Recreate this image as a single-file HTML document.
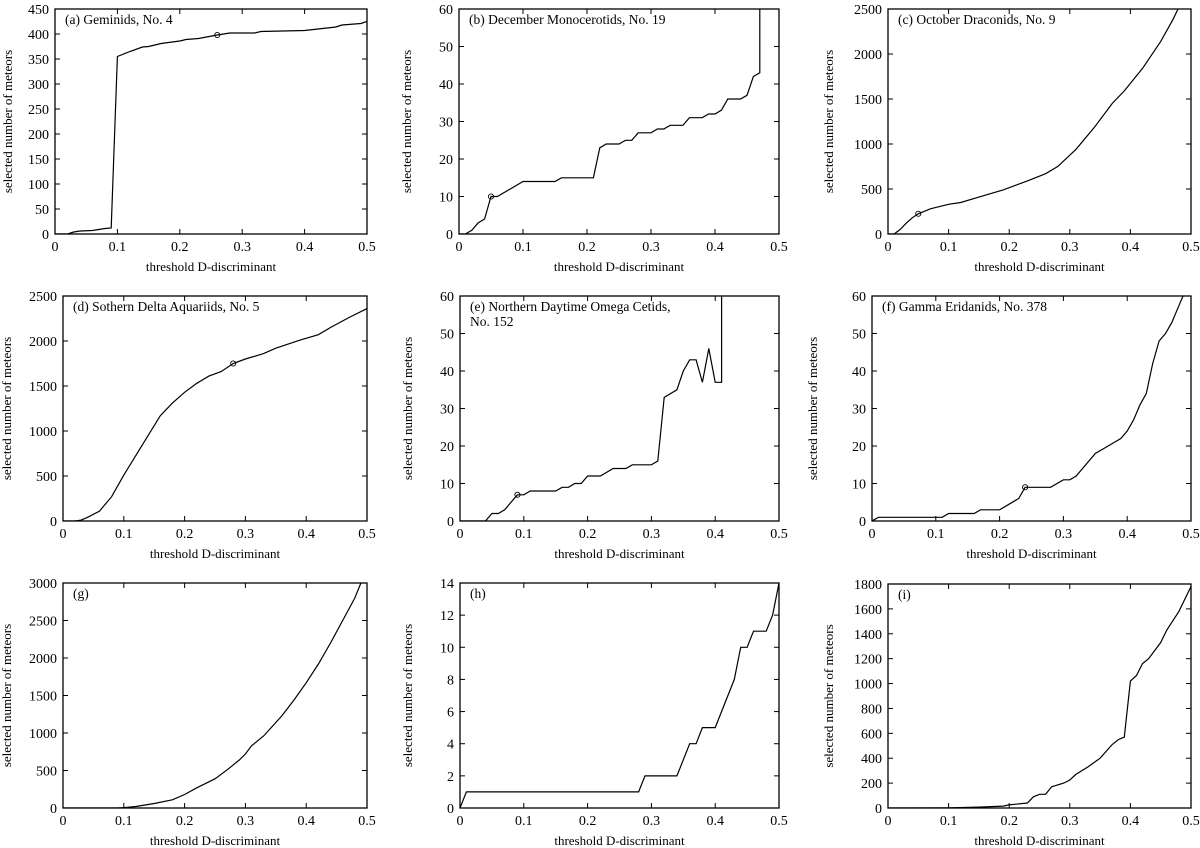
<!DOCTYPE html>
<html><head><meta charset="utf-8"><style>
html,body{margin:0;padding:0;background:#fff;}
svg{display:block;font-family:"Liberation Serif",serif;}
</style></head><body>
<svg id="fig" width="1200" height="848" viewBox="0 0 1200 848" xmlns="http://www.w3.org/2000/svg"></svg>
<script>
// Panel data (x = threshold D, y = selected meteors)
const aX=[0,0.02,0.03,0.04,0.06,0.08,0.09,0.1,0.12,0.14,0.15,0.17,0.2,0.21,0.23,0.26,0.28,0.32,0.33,0.4,0.45,0.46,0.49,0.5];
const aY=[0,0,4,6,7,11,12,355,365,374,375,381,386,389,391,398,402,402,405,407,414,418,421,425];
const bX=[0,0.01,0.02,0.03,0.04,0.05,0.06,0.1,0.15,0.16,0.21,0.22,0.23,0.25,0.26,0.27,0.28,0.3,0.31,0.32,0.33,0.35,0.36,0.38,0.39,0.4,0.41,0.42,0.44,0.45,0.46,0.47,0.47];
const bY=[0,0,1,3,4,10,10,14,14,15,15,23,24,24,25,25,27,27,28,28,29,29,31,31,32,32,33,36,36,37,42,43,70];
const cX=[0,0.01,0.02,0.03,0.04,0.05,0.07,0.1,0.12,0.15,0.19,0.23,0.26,0.28,0.31,0.34,0.37,0.39,0.42,0.45,0.47,0.48];
const cY=[0,0,50,120,180,225,280,330,350,410,490,590,670,750,940,1180,1450,1590,1840,2140,2380,2520];
const dX=[0,0.02,0.03,0.04,0.06,0.08,0.1,0.13,0.16,0.18,0.2,0.22,0.24,0.26,0.28,0.3,0.33,0.35,0.39,0.42,0.44,0.47,0.5];
const dY=[0,0,10,40,110,270,510,840,1170,1310,1430,1530,1610,1660,1750,1800,1860,1920,2010,2070,2150,2260,2360];
const eX=[0,0.04,0.05,0.06,0.07,0.08,0.09,0.1,0.11,0.15,0.16,0.17,0.18,0.19,0.2,0.22,0.24,0.26,0.27,0.3,0.31,0.32,0.34,0.35,0.36,0.37,0.38,0.39,0.4,0.41,0.41];
const eY=[0,0,2,2,3,5,7,7,8,8,9,9,10,10,12,12,14,14,15,15,16,33,35,40,43,43,37,46,37,37,70];
const fX=[0,0.01,0.11,0.12,0.16,0.17,0.2,0.23,0.24,0.28,0.3,0.31,0.32,0.35,0.37,0.39,0.4,0.41,0.42,0.43,0.44,0.45,0.46,0.47,0.48,0.49];
const fY=[0,1,1,2,2,3,3,6,9,9,11,11,12,18,20,22,24,27,31,34,42,48,50,53,57,61];
const gX=[0,0.09,0.1,0.12,0.15,0.18,0.2,0.22,0.25,0.27,0.29,0.3,0.31,0.33,0.36,0.38,0.4,0.42,0.44,0.46,0.48,0.49];
const gY=[0,0,5,20,60,110,180,270,390,510,640,720,830,960,1230,1440,1670,1920,2200,2500,2800,3000];
const hX=[0,0.01,0.28,0.29,0.34,0.36,0.37,0.38,0.4,0.43,0.44,0.45,0.46,0.48,0.49,0.5];
const hY=[0,1,1,2,2,4,4,5,5,8,10,10,11,11,12,14];
const iX=[0,0.1,0.15,0.19,0.2,0.22,0.23,0.24,0.25,0.26,0.27,0.29,0.3,0.31,0.33,0.35,0.37,0.38,0.39,0.4,0.41,0.42,0.43,0.45,0.46,0.48,0.5];
const iY=[0,2,7,15,25,35,40,90,110,110,170,200,225,270,330,400,510,550,570,1020,1065,1160,1200,1330,1430,1580,1780];
const xTicks=[0,0.1,0.2,0.3,0.4,0.5];
const aYTicks=[0,50,100,150,200,250,300,350,400,450];
const bYTicks=[0,10,20,30,40,50,60];
const cYTicks=[0,500,1000,1500,2000,2500];
const dYTicks=[0,500,1000,1500,2000,2500];
const gYTicks=[0,500,1000,1500,2000,2500,3000];
const hYTicks=[0,2,4,6,8,10,12,14];
const iYTicks=[0,200,400,600,800,1000,1200,1400,1600,1800];
const titles={a:["(a)  Geminids, No. 4"],b:["(b)  December Monocerotids, No. 19"],c:["(c)  October Draconids, No. 9"],d:["(d)  Sothern Delta Aquariids, No. 5"],e:["(e)  Northern Daytime Omega Cetids,","       No. 152"],f:["(f)  Gamma Eridanids, No. 378"],g:["(g)"],h:["(h)"],i:["(i)"]};
const markers={a:[0.26,398],b:[0.05,10],c:[0.05,225],d:[0.28,1750],e:[0.09,7],f:[0.24,9]};

const panels=[
 {id:'a',x0:55,x1:367,t:9,b:234,xs:aX,ys:aY,yt:aYTicks},
 {id:'b',x0:459,x1:779,t:9,b:234,xs:bX,ys:bY,yt:bYTicks},
 {id:'c',x0:888,x1:1191,t:9,b:234,xs:cX,ys:cY,yt:cYTicks},
 {id:'d',x0:63,x1:367,t:296,b:521,xs:dX,ys:dY,yt:dYTicks},
 {id:'e',x0:460,x1:779,t:296,b:521,xs:eX,ys:eY,yt:bYTicks},
 {id:'f',x0:872,x1:1191,t:296,b:521,xs:fX,ys:fY,yt:bYTicks},
 {id:'g',x0:63,x1:367,t:583,b:808,xs:gX,ys:gY,yt:gYTicks},
 {id:'h',x0:460,x1:779,t:583,b:808,xs:hX,ys:hY,yt:hYTicks},
 {id:'i',x0:888,x1:1191,t:584,b:808,xs:iX,ys:iY,yt:iYTicks}
];
const NS='http://www.w3.org/2000/svg';
const svg=document.getElementById('fig');
function mk(tag,attrs,parent){const e=document.createElementNS(NS,tag);for(const k in attrs)e.setAttribute(k,attrs[k]);parent.appendChild(e);return e;}
const defs=mk('defs',{},svg);
panels.forEach(p=>{
 const ymax=p.yt[p.yt.length-1];
 const sx=v=>p.x0+(v/0.5)*(p.x1-p.x0);
 const sy=v=>p.b-(v/ymax)*(p.b-p.t);
 const g=mk('g',{},svg);
 
 
 const cp=mk('clipPath',{id:'clip-'+p.id},defs);
 mk('rect',{x:p.x0,y:p.t,width:p.x1-p.x0,height:p.b-p.t},cp);
 // ticks
 xTicks.forEach(v=>{
  const x=sx(v);
  mk('line',{x1:x,y1:p.b,x2:x,y2:p.b-5,stroke:'#000','stroke-width':1},g);
  mk('line',{x1:x,y1:p.t,x2:x,y2:p.t+5,stroke:'#000','stroke-width':1},g);
  const tx=mk('text',{x:x,y:p.b+17,'font-size':14,'text-anchor':'middle'},g);
  
  
  tx.textContent=String(v);
 });
 p.yt.forEach(v=>{
  const y=sy(v);
  mk('line',{x1:p.x0,y1:y,x2:p.x0+5,y2:y,stroke:'#000','stroke-width':1},g);
  mk('line',{x1:p.x1,y1:y,x2:p.x1-5,y2:y,stroke:'#000','stroke-width':1},g);
  const ty=mk('text',{x:p.x0-6,y:y+5,'font-size':14,'text-anchor':'end'},g);
  
  
  ty.textContent=String(v);
 });
 // frame
 const fr=mk('rect',{x:p.x0,y:p.t,width:p.x1-p.x0,height:p.b-p.t,fill:'none',stroke:'#000','stroke-width':1.3},g);
 
 
 // series
 const pts=p.xs.map((x,k)=>sx(x).toFixed(1)+','+sy(p.ys[k]).toFixed(1)).join(' ');
 const pl=mk('polyline',{points:pts,fill:'none',stroke:'#000','stroke-width':1.2,'clip-path':'url(#clip-'+p.id+')'},g);
 
 
 if(markers[p.id]){
  const m=markers[p.id];
  const c=mk('circle',{cx:sx(m[0]),cy:sy(m[1]),r:2.6,fill:'none',stroke:'#000','stroke-width':0.9},g);
  
  
 }
 // panel title
 titles[p.id].forEach((s,k)=>{
  const t=mk('text',{x:p.x0+10,y:p.t+15+k*15,'font-size':13.5,'xml:space':'preserve'},g);
  
  
  t.textContent=s;
 });
 // axis titles
 const xt=mk('text',{x:(p.x0+p.x1)/2,y:p.b+37,'font-size':13,'text-anchor':'middle'},g);
 
 
 xt.textContent='threshold D-discriminant';
 const yx=p.x0-(p.x0<100?(p.x0===55?43:52):(p.x0<600?48:55));
 const yc=(p.t+p.b)/2;
 const yt=mk('text',{x:yx,y:yc,'font-size':13,'text-anchor':'middle',transform:'rotate(-90 '+yx+' '+yc+')'},g);
 
 
 yt.textContent='selected number of meteors';
});
</script>
</body></html>
